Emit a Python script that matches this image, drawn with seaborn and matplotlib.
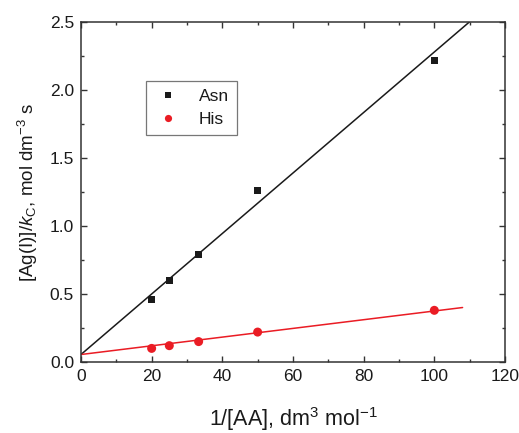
import numpy as np
import pandas as pd
import matplotlib
matplotlib.use("Agg")
import matplotlib.pyplot as plt
import seaborn as sns
from matplotlib.ticker import MultipleLocator, FormatStrFormatter

sns.set_style("ticks")
plt.rcParams["font.family"] = ["Liberation Sans", "DejaVu Sans"]
plt.rcParams["mathtext.fontset"] = "custom"
plt.rcParams["mathtext.rm"] = "Liberation Sans"
plt.rcParams["mathtext.it"] = "Liberation Sans:italic"

# Measured points: reciprocal amino-acid concentration vs [Ag(I)]/k_C
inv_aa = [20, 25, 33.3, 50, 100]
asn_y = [0.46, 0.60, 0.79, 1.26, 2.22]
his_y = [0.10, 0.12, 0.15, 0.22, 0.38]

# Linear fits (intercept, slope) and their drawn x-ranges
asn_fit = (0.055, 0.02225)
his_fit = (0.055, 0.00320)
asn_fit_x = [0, 112]
his_fit_x = [0, 108]

black = "#1a1a1a"
red = "#ea1c24"

pts = pd.DataFrame({
    "x": inv_aa * 2,
    "y": asn_y + his_y,
    "AA": ["Asn"] * len(inv_aa) + ["His"] * len(inv_aa),
})

fig = plt.figure(figsize=(5.19, 4.33), dpi=100)
ax = fig.add_axes([0.156, 0.164, 0.817, 0.785])

# fit lines
for (b0, b1), xr, col in [(asn_fit, asn_fit_x, black), (his_fit, his_fit_x, red)]:
    xl = np.array(xr, dtype=float)
    sns.lineplot(x=xl, y=b0 + b1 * xl, color=col, lw=1.1, ax=ax, legend=False)

sns.scatterplot(data=pts, x="x", y="y", hue="AA", style="AA", size="AA",
                palette={"Asn": black, "His": red},
                markers={"Asn": "s", "His": "o"},
                sizes={"Asn": 27, "His": 42},
                edgecolor="none", linewidth=0, ax=ax)

ax.set_xlim(0, 120)
ax.set_ylim(0, 2.5)
ax.xaxis.set_major_locator(MultipleLocator(20))
ax.xaxis.set_minor_locator(MultipleLocator(10))
ax.yaxis.set_major_locator(MultipleLocator(0.5))
ax.yaxis.set_minor_locator(MultipleLocator(0.25))
ax.yaxis.set_major_formatter(FormatStrFormatter("%.1f"))

ax.tick_params(which="both", direction="in", top=True, right=True,
               labelsize=12.5, color="#333333", labelcolor="#1a1a1a",
               width=1.0, pad=5)
ax.tick_params(which="major", length=4.5)
ax.tick_params(which="minor", length=2.5)
for sp in ax.spines.values():
    sp.set_color("#333333")
    sp.set_linewidth(1.1)

ax.set_xlabel(r"1/[AA], dm$^3$ mol$^{-1}$", fontsize=15.5, labelpad=15,
              color="#1a1a1a")
ax.set_ylabel(r"[Ag(I)]/$\mathit{k}_{\rm C}$, mol dm$^{-3}$ s", fontsize=13.5,
              labelpad=7, color="#1a1a1a")

leg = ax.legend(loc="upper left", bbox_to_anchor=(0.153, 0.826), frameon=True,
                fancybox=False, edgecolor="#555555", fontsize=12.5,
                borderaxespad=0, handletextpad=1.0, borderpad=0.45,
                labelspacing=0.45, markerscale=0.8, handlelength=1.6)
leg.get_frame().set_linewidth(0.9)
for t in leg.get_texts():
    t.set_color("#1a1a1a")

fig.savefig("out.png", dpi=100)
